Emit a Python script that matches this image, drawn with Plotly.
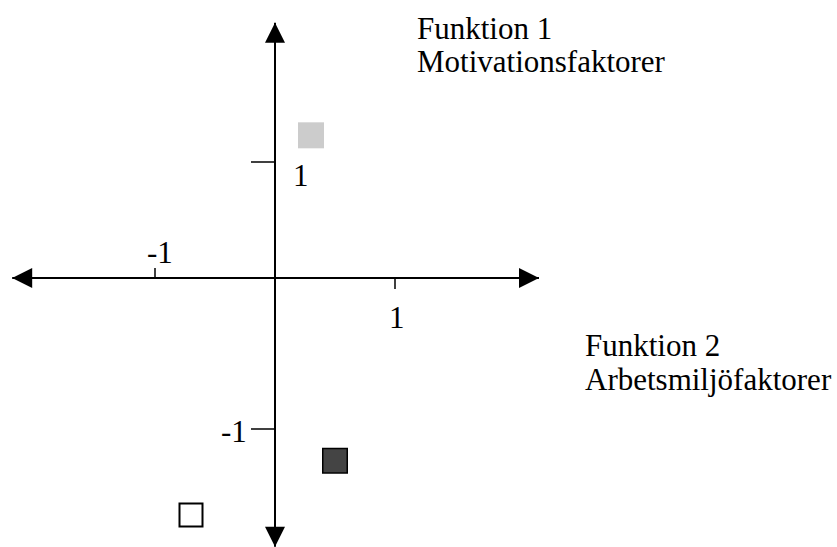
import plotly.graph_objects as go

# ---------------- data ----------------
point_names = ["Grupp 1", "Grupp 2", "Grupp 3"]
point_x = [0.30, 0.50, -0.70]          # Funktion 2
point_y = [1.23, -1.21, -1.57]         # Funktion 1
x_tick_vals = [-1, 1]
x_tick_text = ["-1", "1"]
y_tick_vals = [1, -1]
y_tick_text = ["1", "-1"]
axis_x_ends = [-2.19, 2.2]
axis_y_ends = [2.2, -1.78]
axis1_title = ["Funktion 1", "Motivationsfaktorer"]
axis2_title = ["Funktion 2", "Arbetsmiljöfaktorer"]

# ---------------- geometry / style ----------------
W, H = 837, 547
ox, oy = 275, 278          # pixel position of the origin
ux = 120                   # px per unit, x
uy_pos = 116               # px per unit, upper y half
uy_neg = 151               # px per unit, lower y half

x_range = [-ox / ux, (W - ox) / ux]
y_range = [-(H - oy) / uy_pos, oy / uy_pos]
y2_range = [-(H - oy) / uy_neg, oy / uy_neg]

marker_styles = [
    dict(size=26, color="#cccccc", line=dict(width=0, color="#cccccc")),
    dict(size=24.5, color="#444444", line=dict(width=1.5, color="black")),
    dict(size=23, color="white", line=dict(width=2, color="black")),
]

FONT = dict(family="Liberation Serif, Times New Roman, serif", size=31, color="black")


def yref_of(v):
    return "y" if v >= 0 else "y2"


fig = go.Figure()

for name, xv, yv, ms in zip(point_names, point_x, point_y, marker_styles):
    fig.add_trace(go.Scatter(
        x=[xv], y=[yv], name=name, mode="markers",
        yaxis=yref_of(yv),
        marker=dict(symbol="square", **ms),
        hoverinfo="skip",
    ))

shapes = []
LW = 2
# axis lines
shapes.append(dict(type="line", xref="x", yref="y", x0=axis_x_ends[0], x1=axis_x_ends[1],
                   y0=0, y1=0, line=dict(color="black", width=LW)))
shapes.append(dict(type="line", xref="x", yref="y", x0=0, x1=0, y0=0, y1=axis_y_ends[0],
                   line=dict(color="black", width=LW)))
shapes.append(dict(type="line", xref="x", yref="y2", x0=0, x1=0, y0=0, y1=axis_y_ends[1],
                   line=dict(color="black", width=LW)))

# arrow heads (pixel-sized, anchored at axis ends)
A, HW = 20, 10
heads = [
    (axis_x_ends[1], 0, "y", f"M0,0 L{-A},{HW} L{-A},{-HW} Z"),
    (axis_x_ends[0], 0, "y", f"M0,0 L{A},{HW} L{A},{-HW} Z"),
    (0, axis_y_ends[0], "y", f"M0,0 L{-HW},{-A} L{HW},{-A} Z"),
    (0, axis_y_ends[1], "y2", f"M0,0 L{-HW},{A} L{HW},{A} Z"),
]
for xa, ya, yr, path in heads:
    shapes.append(dict(type="path", xref="x", yref=yr, xsizemode="pixel", ysizemode="pixel",
                       xanchor=xa, yanchor=ya, path=path,
                       fillcolor="black", line=dict(color="black", width=0)))

# ticks
x_tick_dirs = [10, -11]    # -1 tick above, 1 tick below
for tv, d in zip(x_tick_vals, x_tick_dirs):
    shapes.append(dict(type="line", xref="x", yref="y", ysizemode="pixel", yanchor=0,
                       x0=tv, x1=tv, y0=0, y1=d, line=dict(color="black", width=1.5)))
for tv in y_tick_vals:
    shapes.append(dict(type="line", xref="x", yref=yref_of(tv), xsizemode="pixel", xanchor=0,
                       x0=-24, x1=0, y0=tv, y1=tv, line=dict(color="black", width=1.5)))

annotations = []
x_label_shift = [(5, 26), (2, -39)]
for tv, tt, (sx, sy) in zip(x_tick_vals, x_tick_text, x_label_shift):
    annotations.append(dict(x=tv, y=0, xref="x", yref="y", text=tt, showarrow=False,
                            xanchor="center", yanchor="middle", xshift=sx, yshift=sy, font=FONT))
y_label_shift = [(26, -13), (-41, -2)]
for tv, tt, (sx, sy) in zip(y_tick_vals, y_tick_text, y_label_shift):
    annotations.append(dict(x=0, y=tv, xref="x", yref=yref_of(tv), text=tt, showarrow=False,
                            xanchor="center", yanchor="middle", xshift=sx, yshift=sy, font=FONT))

# axis titles (pixel positions of each line)
title_lines = [
    (axis1_title[0], 415, 28), (axis1_title[1], 415, 62),
    (axis2_title[0], 583, 345), (axis2_title[1], 583, 379),
]
for txt, px, py in title_lines:
    annotations.append(dict(x=px / W, y=1 - py / H, xref="paper", yref="paper", text=txt,
                            showarrow=False, xanchor="left", yanchor="middle", font=FONT))

fig.update_layout(
    width=W, height=H,
    margin=dict(l=0, r=0, t=0, b=0),
    paper_bgcolor="white", plot_bgcolor="white",
    showlegend=False,
    xaxis=dict(range=x_range, visible=False, fixedrange=True),
    yaxis=dict(range=y_range, visible=False, fixedrange=True),
    yaxis2=dict(range=y2_range, visible=False, overlaying="y", anchor="x", fixedrange=True),
    shapes=shapes,
    annotations=annotations,
)

fig.write_html(
    "out.html",
    config=dict(displayModeBar=False),
    post_script="document.body.style.margin='0';document.body.style.overflow='hidden';",
)
